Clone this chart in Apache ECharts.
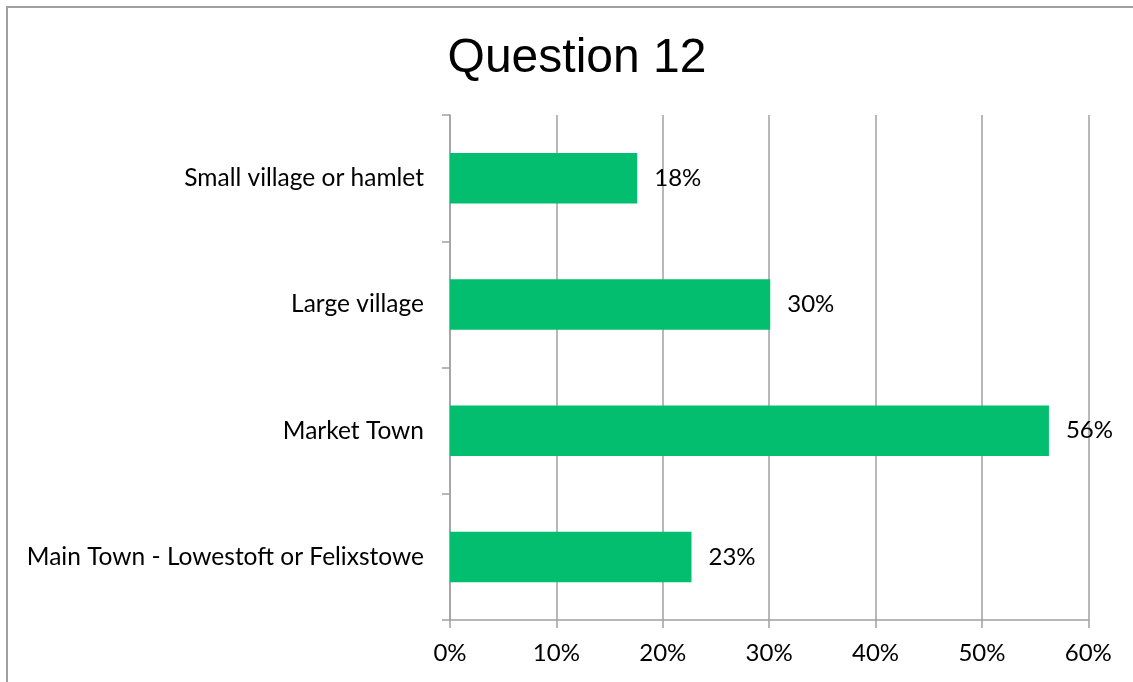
<!DOCTYPE html>
<html>
<head>
<meta charset="utf-8">
<title>Question 12</title>
<script src="https://cdn.jsdelivr.net/npm/echarts@6/dist/echarts.min.js"></script>
<style>
  html, body { margin: 0; padding: 0; background: #ffffff; }
  #chart { width: 1133px; height: 682px; }
</style>
</head>
<body>
<div id="chart"></div>
<script>
// Settlement types, listed top to bottom
const categories = [
  'Small village or hamlet',
  'Large village',
  'Market Town',
  'Main Town - Lowestoft or Felixstowe'
];
// Share of responses (%)
const shares = [17.6, 30.1, 56.3, 22.7];
// Value labels shown next to each bar
const shareLabels = ['18%', '30%', '56%', '23%'];
// Horizontal axis ticks (%)
const axisTicks = [0, 10, 20, 30, 40, 50, 60];

const labelFont = 'Lato, "Open Sans", sans-serif';
const gray = '#a0a0a0';

const chart = echarts.init(document.getElementById('chart'), null, { renderer: 'canvas' });

chart.setOption({
  animation: false,
  backgroundColor: '#ffffff',
  title: {
    text: 'Question 12',
    left: 572,
    top: 30,
    textAlign: 'center',
    textStyle: {
      fontFamily: '"Liberation Sans", Arial, sans-serif',
      fontSize: 48,
      fontWeight: 'normal',
      color: '#000000'
    }
  },
  graphic: [{
    type: 'rect',
    shape: { x: 7, y: 7, width: 1160, height: 720 },
    style: { fill: 'none', stroke: gray, lineWidth: 2 },
    silent: true
  }],
  grid: { left: 450, right: 44.7, top: 115, bottom: 62, containLabel: false },
  xAxis: {
    type: 'value',
    min: axisTicks[0],
    max: axisTicks[axisTicks.length - 1],
    interval: axisTicks[1] - axisTicks[0],
    axisLine: { show: true, lineStyle: { color: gray, width: 1.5 } },
    axisTick: { show: true, length: 8, lineStyle: { color: gray, width: 1.5 } },
    splitLine: { show: true, lineStyle: { color: gray, width: 1.5 } },
    axisLabel: {
      margin: 21,
      formatter: v => v + '%',
      fontFamily: labelFont,
      fontSize: 24,
      color: '#000000'
    }
  },
  yAxis: {
    type: 'category',
    data: categories,
    inverse: true,
    axisLine: { show: true, lineStyle: { color: gray, width: 1.5 } },
    axisTick: { show: true, length: 8, alignWithLabel: false, lineStyle: { color: gray, width: 1.5 } },
    splitLine: { show: false },
    axisLabel: {
      margin: 26,
      fontFamily: labelFont,
      fontSize: 24.5,
      color: '#000000'
    }
  },
  series: [{
    type: 'bar',
    data: shares,
    barCategoryGap: '60%',
    itemStyle: { color: '#02be6e' },
    label: {
      show: true,
      position: 'right',
      distance: 17,
      formatter: p => shareLabels[p.dataIndex],
      fontFamily: labelFont,
      fontSize: 24,
      color: '#000000'
    }
  }]
});
</script>
</body>
</html>
